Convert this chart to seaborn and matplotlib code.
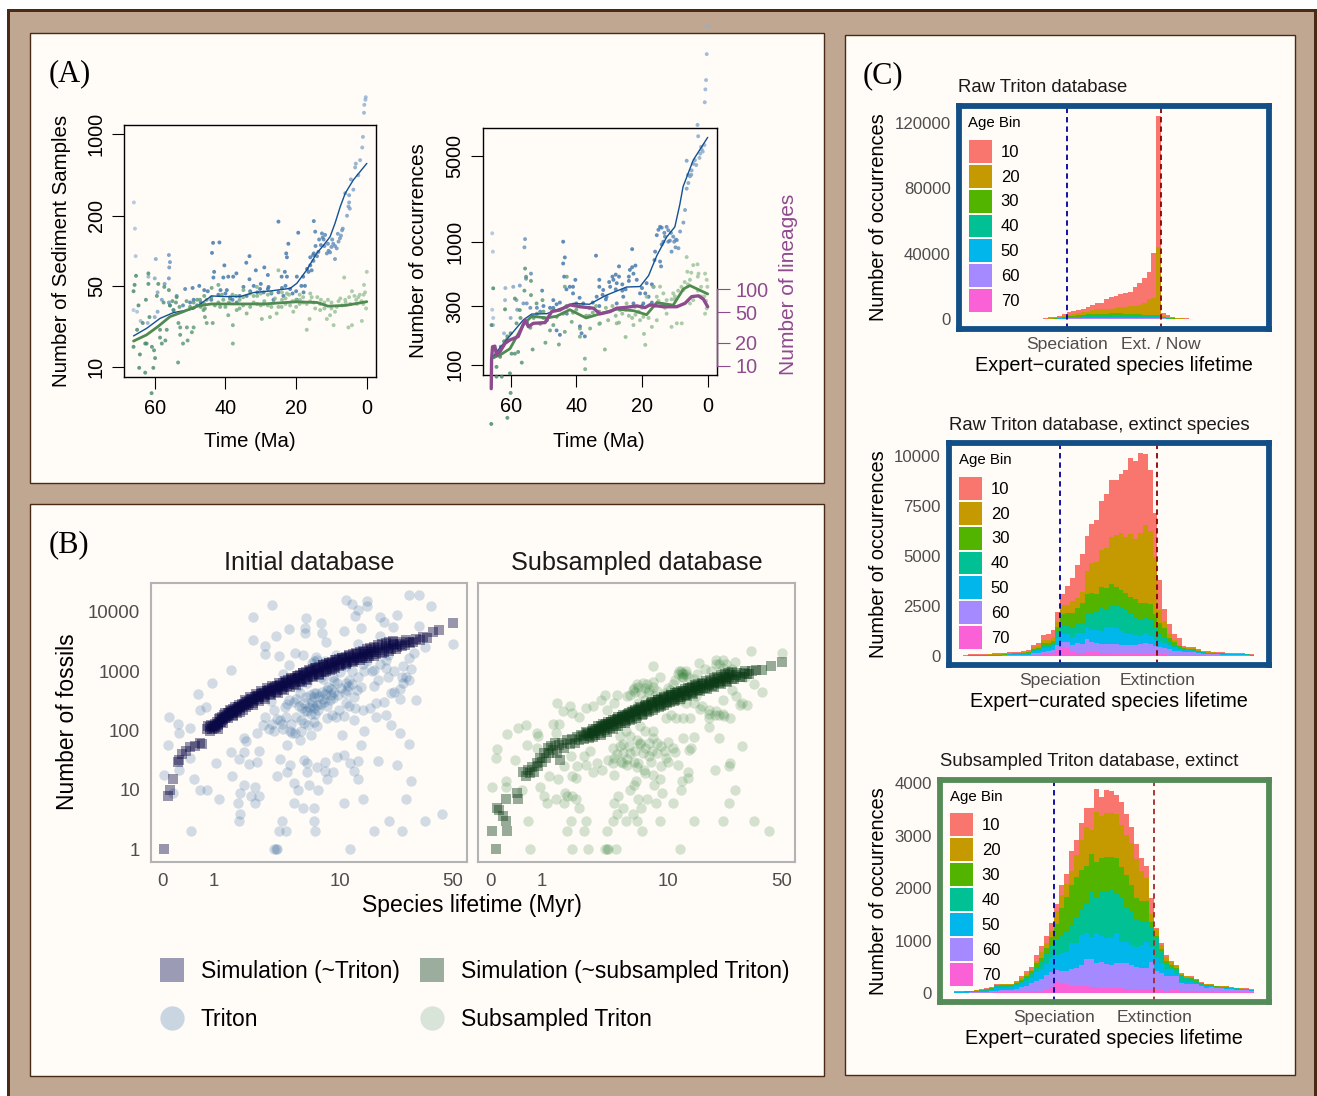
import numpy as np
import pandas as pd
import matplotlib
matplotlib.use('Agg')
import matplotlib.pyplot as plt
from matplotlib.colors import LinearSegmentedColormap
from matplotlib.lines import Line2D
from matplotlib.patches import Patch, Rectangle
import seaborn as sns

W, H = 1317, 1096

# ---- panel A: (Ma, count)
sed_blue_pts = [(0.3,2080),(0.4,1980),(0.7,1790),(0.8,1530),(1.1,950),(1.3,770),(1.9,600),(3.1,560),(3.3,520),(2.4,445),(4.5,410),(6.1,312),(3.8,335),(5,260),(5.2,240),(5.6,200),(7,150),(12.7,141),(11.8,137),(12.2,125),(14.1,90),(15.1,82),(15.6,68),(16.5,66),(19.8,60),(17.5,50),(19.4,143),(22.2,115),(25,178),(15,180),(14.6,146),(7.6,128),(8.5,105),(10.4,97),(11.3,95),(9,85),(22.8,95),(22.6,88),(23.2,66),(24.1,60),(22.6,60),(28,62),(29,72),(33.2,90),(34.1,79),(31.4,68),(33.2,57),(36.9,64),(37.8,60),(40.3,75),(39.2,60),(40.6,59),(43.4,59),(41.7,118),(43.5,117),(43.8,96),(43.2,66),(46,46),(47.4,50),(49.3,48),(51.4,47),(53.8,41),(55.7,34),(54.7,31),(56,92),(55.7,80),(55.9,72),(56,58),(57.2,52),(59.7,85),(60,58),(61.8,60),(65.4,90),(65.6,155),(65.9,260),(66,31),(65,30),(59.2,44),(59.2,30),(62,24),(41.4,46),(39.6,46),(34.9,49),(32,50),(30.2,47),(29.2,44),(27.8,49),(26.4,38),(23.6,41),(21.7,47),(19.8,38),(17.9,44),(34,41),(36.8,36),(38.7,39),(44,38),(47,36),(48,34),(13.5,125),(12,110),(16,88),(15.2,92),(13.7,98),(10,108),(9.5,115),(8,120),
 (42,42),(40,43),(38,38),(36,41),(33,45),(31,44),(30,52),(28,47),(27,43),(25,44),(24,48),(23,50),(21,43),(20,45),(18.5,50),(18,60),(16.9,70),(16,75),(15,95),(14.5,110),(13,112),(12.5,130),(11,115),(10.8,100),(9.8,125),(9,110),(8.2,140),(7.3,135),(6.8,155),(5,300),(4.8,230),(45,45),(49,38),(50,36),(52,34),(56,36),(58,38),(60,27),(64,25)]
sed_green_pts = [(64.4,9.9),(62.7,9),(60.4,9.9),(60.9,6),(64.2,12.9),(62.7,16),(62.3,16),(60.8,15),(60.2,14),(59.9,12),(58.5,18),(58,16),(57,17),(56.6,21),(58.5,21),(61.5,27),(63.4,24),(65,21),(66,15),(64.6,34),(62.5,38),(61.8,52),(61.8,64),(65.3,61),(65.7,51),(66,45),(59.4,41),(57.5,36),(56,46),(59,52),(57.3,49),(55.7,34),(54.7,31),(53.8,40),(53.3,24),(52.8,22),(50.9,22),(49.5,20),(49,22),(52.8,19),(52,16),(50.7,17),(53.4,11),(37.9,16),(37.9,23),(45.8,27),(45.3,24),(43.6,24),(45.8,32),(46.2,31),(43.9,48),(42,51),(41.5,33),(39.2,28),(36.8,31),(34,29),(31.1,49),(29.7,26),(27.4,27),(25,68),(25.5,29),(22.6,43),(20.8,30),(18.9,38),(17,21),(16.2,26),(14.6,32),(13.2,35),(11.3,26),(10.4,28),(9.4,23),(6.4,59),(6.1,38),(5.2,22),(4.2,45),(4.2,23),(2.4,40),(1.4,25),(0.8,51),(0,66),(0.2,32),(2.8,35),(0.9,42),(34.9,46),(33,43),(38.7,40),(40.6,38),(45.3,38),(47.2,38),(29.2,35),(26.4,36),(24.1,33),(21.7,34),(15.6,40),(13.2,31),(8.5,33),(7.5,39),(4.7,35),(24,38),(36,38),(32,36),(28,42),(20,38),(12,36),(18,36),(30,34),(38,42),(42,36),(35,34),(31,41),(27,33),(23,39),(19,35),(16,37),(10,36),(7,34),(3.5,41),(1.5,37),
 (44,40),(43,34),(41,42),(40,33),(39,36),(37,41),(36,32),(35,40),(33,33),(32,41),(31,35),(30,43),(29,37),(28,34),(27,44),(26,39),(25,33),(24,44),(23,35),(22,42),(21,37),(20,33),(19,42),(18,40),(17,35),(16,43),(15,36),(14,40),(13,38),(12,32),(11,38),(10,32),(9,30),(8,37),(6,36),(5,40),(3,38),(2,42),(1,35),(0.5,44),(46,35),(47,33),(48,38),(49,36),(50,33),(51,37),(53,33),(54,36),(55,37),(46,41)]
sed_blue_line = [(66,18.6),(62.3,21.6),(58.5,26.3),(54.7,29.5),(49,31.7),(46.2,36.6),(43.9,41),(40.6,40.5),(35.8,40.5),(32.1,43.8),(27.4,45.2),(21.7,47.6),(19.8,52.6),(17,68.5),(14.2,95),(12.2,112),(10.4,132),(9,172),(7.5,240),(6.1,312),(3.8,406),(0,563)]
sed_green_line = [(66,16.8),(62.3,19),(59,22.5),(55.7,27.2),(52,30),(48,33.5),(44,35),(37,35),(29,35),(20,36.5),(14,36),(11,33.5),(6,34),(0,36.6)]

occ_blue_pts = [(0,56000),(0.3,33500),(0.5,20600),(0.7,17300),(0.9,13600),(3.1,8900),(2.9,7200),(1.8,5600),(2.3,5200),(3.9,4600),(6.4,4550),(4.9,3800),(5.9,3000),(6.4,2700),(6.9,1810),(7.4,1430),(8.4,1210),(9.4,1030),(11,830),(8.9,885),(14.5,1320),(12.5,1320),(15.5,1130),(13,1100),(10.5,1100),(16,830),(16.2,710),(14.5,690),(14.2,630),(23,870),(27,630),(23.7,590),(22.6,550),(21.6,490),(18.6,460),(16.5,430),(28.7,490),(27.7,460),(29.7,430),(31.8,405),(33.8,357),(33,490),(34,770),(40.3,490),(44,1000),(43.5,745),(44,665),(43.7,520),(42,430),(41,380),(40,315),(47,335),(50.4,400),(53.8,550),(55.3,500),(55.6,1050),(55.8,900),(57.2,440),(59.2,430),(61.6,420),(61.7,335),(65.6,1170),(65.4,830),(65.6,280),(65.3,240),(65.3,210),(58.2,335),(56.1,315),(55.1,315),(37.9,315),(37.4,170),(38.4,180),(38.9,205),(42.9,260),(46,190),(45,175),(49,230),(30.8,357),(25.7,357),(20.6,380),(18,357),(19.6,315),(22.6,315),(27.7,315),(1.5,5400),(2.5,4800),(4.4,4300),(5.4,3400),(12,1240),(11.5,1020),(14,950),(13.2,1180),(9.8,900),(28,410),(26,400),(24,480),(31,340),(33,300),(36,290),(48,290),(51,270),
 (30,470),(29,520),(28,540),(27,520),(26,450),(25,410),(24,520),(23,620),(22,640),(20,420),(19,380),(17,450),(15,1250),(14,1300),(13.5,1000),(12,1000),(11.2,1180),(10.2,1000),(9.7,1040),(32,370),(33,430),(35,320),(39,350),(41,430),(43,410),(45,320),(46,310),(47,290),(50,300),(52,290),(54,290),(58,280),(60,240),(62,180),(64,130),(65,115),(2,5900),(1,6100),(3.5,4200),(5,3500),(6,3500),(20,300),(17,320)]
occ_green_pts = [(6.4,750),(4.4,645),(3.1,655),(6.2,570),(2.8,550),(0.8,550),(0.3,490),(0.1,430),(5.4,490),(7.4,405),(10.5,380),(13.5,380),(15.5,357),(16.5,430),(18.6,357),(17.6,305),(19.6,245),(22.6,210),(19,145),(19.4,178),(25,168),(31.3,133),(27.7,217),(30.3,230),(32.8,217),(35.8,197),(37.4,112),(37.3,92),(38.9,197),(38.9,169),(41.4,223),(43.5,185),(45.3,146),(49.4,151),(53.3,133),(56.6,104),(57.7,127),(58.7,123),(59.7,123),(60,59),(61,37),(65.9,33),(60.2,85),(62.7,80),(64.3,80),(64.3,96),(65.3,116),(65.8,210),(65.3,418),(61.7,282),(58.7,345),(57.2,278),(55.6,605),(55.3,519),(53.8,480),(55.8,400),(53.8,368),(50.3,335),(52.1,315),(50,270),(49,230),(47,278),(43.5,431),(42.9,519),(26.7,278),(24.7,315),(14.5,431),(12.5,335),(12.5,260),(9.4,217),(11,203),(7.9,217),(5.4,315),(4.4,335),(0.8,260),(0.3,287),(15.5,230),(17,203),(20.6,230),(22.1,295),(42.9,295),(46,245),(58.2,217),(63.2,116),(61.2,159),(36,250),(33,270),(29,300),(26,260),(21,270),(16,300),(10,340),(8,430),(3,400),(2,360),(40,280),(44,260),
 (45,280),(43,300),(41,265),(39,300),(37,250),(35,265),(34,300),(31,290),(28,250),(25,280),(24,250),(23,240),(20,290),(18,240),(15,330),(14,310),(13,290),(11,340),(10,360),(9,400),(7,470),(6,450),(5,560),(3,520),(2,430),(1,360),(0.5,330),(50,240),(51,215),(52,260),(53,240),(54,200),(55,220),(57,240),(60,180),(61,170),(62,155),(63,140),(64,120),(47,210),(48,190),(33,215),(27,220),(22,255)]
occ_blue_line = [(65.8,112),(63.2,138),(60.2,172),(56.1,232),(53.6,258),(49,260),(45,285),(41,315),(36,310),(31,366),(24.7,428),(20.6,432),(18,530),(15.5,770),(12.5,1090),(10,1320),(8.5,2000),(7.5,2800),(4.4,4610),(0,7050)]
occ_green_line = [(65.8,113),(63.2,120),(60.2,135),(56.1,212),(53.6,248),(49,240),(46,248),(42,280),(37,240),(32,263),(27.7,283),(22.6,275),(18.6,255),(15.5,320),(10.5,305),(7.4,413),(5.4,440),(0,376)]
lineage_line = [(65.9,5),(65.8,11.9),(65.5,17.7),(64.8,18),(64.3,13.8),(63.2,15.3),(61.7,19.6),(60.2,21.7),(57.7,24),(55.6,39.6),(54.6,32.4),(53.1,35.8),(49.5,36.6),(47.5,51),(45,53.6),(41.9,62.4),(38.9,59),(34.8,56.5),(32.8,47.6),(29.7,51),(27.7,56.5),(24.7,58),(21.6,60.5),(19.1,57.5),(17.6,62.4),(13.5,59),(9.4,59),(6.9,65.5),(4.9,80),(2.8,82),(1.3,74),(0,59)]

# ---- panel B: (lifetime Myr, fossils)
triton_pts = [(0.02,18),(0.08,170),(0.07,57),(0.22,127),(0.24,92),(0.44,110),(0.44,34),(0.25,22),(0.15,9),(0.53,15),(0.65,10),(0.82,10),(1.13,7),(0.47,2),(0.6,410),(0.65,220),(0.8,250),(0.95,630),(1.5,1050),(1.05,28),(1.5,44),(1.55,17),(1.75,6),(1.85,4),(1.8,3),(1.85,9),(2,12),(2.5,11),(2.3,8),(2.7,8),(2.5,6),(1.8,33),(2,43),(2,75),(2.2,27),(2.6,30),(2.7,45),(2.6,92),(2.1,66),(2.4,8300),(2.4,3400),(3,2600),(3,1950),(3.4,13000),(3.6,3900),(3.8,1800),(4.5,5200),(4.5,1250),(4.1,900),(6,7800),(5.9,5300),(5.9,4300),(7.5,6500),(7.6,4300),(8.1,3100),(10.7,4700),(13.6,5400),(13,2900),(18,8300),(19,6800),(21.5,5600),(23,8900),(11,15500),(12,13700),(13,10500),(12.5,8500),(15,15000),(15,12500),(27,19000),(31,19000),(37,12500),(50,2900),(34,2500),(31,5800),(18,3900),(5,2000),(5.7,1900),(6.7,1500),(8,1500),(9.5,1900),
 (6.05,640),(6.7,430),(7.8,730),(5.45,430),(7.1,270),(6.05,215),(6.4,190),(5.1,340),(5.75,290),(7.8,340),(8.2,480),(9.1,690),(9.6,620),(11.2,480),(11.4,260),(12.3,370),(13.6,540),(14.3,1000),(16,1000),(16.5,560),(4.37,280),(4.2,250),(3.5,220),(3,170),(3.9,150),(3.2,105),(3.5,100),(4.6,97),(4.75,92),(5.45,70),(6.4,85),(7.1,120),(8.2,165),(10.3,85),(10.6,175),(12.3,150),(14.3,100),(13.6,57),(9.6,36),(10.6,38),(8,29),(5.75,32),(6.05,28),(3.9,33),(4.37,58),(4.6,26),(4.37,20),(3.7,17),(6.05,20),(7.1,24),(8,21),(9,20),(8.2,15),(11.7,28),(13,31),(12.3,21),(13,15),(4.9,13),(5.2,10),(6.2,12),(7.2,10),(4.9,6),(5.7,5),(6.7,5),(4,3),(6.7,3),(3.8,2),(4.3,2),(6.9,2),(3.5,1),(3.6,1),(3.7,1),(11.7,1),(10.7,6),(14.1,7),(16.6,2),(20.5,3),(24.5,2),(34,3),(43,4),(26,7),(28,14),(17.5,31),(23,26),(27,59),(24,92),(21,125),(17,170),(19.5,185),(24,340),(30,330),(22,440),(27,700),(25,630),(24.5,800),(19.5,1120),(16.5,1060),(19.5,1550),(25,1210),(27,1640),(29,2000),(9,800),(10,950),(11.5,700),(7.5,800),(8.8,400),(6.5,300),(5.2,560),(4.7,130),(3.3,310),(13,800),(15,1500),(20,1900),(5,90),(6.8,140),(9.9,220),(11,640),
 (4.5,330),(4.9,300),(5.3,260),(5.6,240),(5.9,210),(6.2,250),(6.5,270),(6.8,240),(7.2,220),(7.5,280),(7.9,300),(8.3,260),(8.6,320),(9,350),(6,360),(6.3,400),(6.7,360),(7,420),(7.3,380),(7.6,450),(8,410),(8.4,550),(8.8,500),(9.2,440),(9.8,400),(10.2,520),(10.8,430),(11.3,560),(12,600),(12.8,480),(5.1,170),(5.5,150),(5.8,135),(6.1,125),(3.7,155),(4,130),(4.3,170),(4.1,105),(3.4,130),(2.9,125),(5.5,100),(6.9,190),(8.9,180),(9.5,170),(11,290),(12.5,240),(14,220),(15.5,240),(17,290),(19,300),(21,420),(24,500),(26,800),(28,1100),(17.5,700),(20,800),(22,1000),(18,1300),(12,1000),(14,1300),(11,1200),(6.5,1350),(7,1700),(7.1,1550)]
sim_pts = [(0.02,1),(0.07,8),(0.1,10),(0.15,15),(0.22,30),(0.24,32),(0.3,40),(0.37,46),(0.45,52),(0.55,55),(0.65,62),(0.7,60),(0.82,105),(0.85,120),(0.88,100),(0.9,115),(0.92,125),(0.95,105),(0.98,120),(1,110),(1.02,130),(1.05,115),(1.08,140),(1.12,125),(1.15,155),(1.2,140),(1.22,170),(1.27,155),(1.3,185),(1.35,170),(1.4,200),(1.45,185),(1.5,215),(1.55,195),(1.6,230),(1.7,215),(1.75,250),(1.85,240),(1.9,275),(2,265),(2.1,300),(2.2,290),(2.3,335),(2.45,320),(2.6,380),(2.7,365),(2.85,420),(3,400),(3.15,465),(3.3,440),(3.5,510),(3.7,490),(3.9,570),(4.1,540),(4.3,630),(4.5,600),(4.75,700),(5,660),(5.25,770),(5.5,730),(5.8,860),(6.1,810),(6.4,950),(6.7,900),(7.1,1050),(7.5,980),(7.9,1160),(8.3,1090),(8.7,1270),(9.1,1190),(9.6,1400),(10.1,1300),(10.6,1520),(11.2,1420),(11.8,1640),(12.4,1530),(13.1,1760),(13.8,1650),(14.5,1920),(15.3,1800),(16,2080),(17,1950),(18,2260),(19,2120),(20,2480),(21,2350),(22,2700),(23,2550),(24,2900),(25.5,2800),(27,3150),(28.5,3050),(30,3500),(31.5,3300),(33,3700),(35,3600),(38,4500),(41,5000),(50,6450),
 (1.1,105),(1.18,165),(1.25,135),(1.33,200),(1.42,160),(1.48,225),(1.58,180),(1.65,250),(1.72,200),(1.8,270),(1.95,225),(2.05,320),(2.15,265),(2.25,360),(2.4,295),(2.55,410),(2.65,335),(2.8,455),(2.95,370),(3.1,510),(3.25,405),(3.4,560),(3.6,450),(3.8,625),(4,500),(4.2,690),(4.4,555),(4.65,760),(4.9,610),(5.15,840),(5.4,680),(5.65,940),(5.95,750),(6.25,1040),(6.55,830),(6.9,1150),(7.3,910),(7.7,1270),(8.1,1000),(8.5,1390),(8.9,1100),(9.35,1530),(9.85,1210),(10.4,1660),(10.9,1320),(11.5,1790),(12.1,1430),(12.8,1930),(13.5,1540),(14.2,2090),(14.9,1680),(15.7,2260),(16.5,1830),(17.5,2450),(18.5,1990),(19.5,2690),(20.5,2200),(21.5,2900),(22.5,2400),(23.5,3100),(24.5,2650),(26,3300),(27.5,2950),
 (1.03,120),(1.1,130),(1.17,140),(1.24,150),(1.31,165),(1.38,178),(1.46,195),(1.53,205),(1.62,215),(1.72,232),(1.82,250),(1.92,262),(2.02,280),(2.12,298),(2.22,315),(2.35,335),(2.5,360),(2.62,385),(2.78,405),(2.92,430),(3.08,455),(3.22,480),(3.38,505),(3.55,535),(3.72,560),(3.9,595),(4.08,625),(4.28,660),(4.48,700),(4.7,740),(4.95,780),(5.2,825),(5.45,870),(5.72,915),(6,965),(6.3,1020),(6.6,1070),(6.95,1130),(7.3,1190),(7.7,1250),(8.1,1310),(8.5,1380),(8.95,1450),(9.4,1520),(9.9,1590),(10.4,1670),(10.95,1750),(11.5,1840),(12.1,1930),(12.75,2020),(13.4,2120),(14.1,2220),(14.85,2330),(15.6,2440),(16.5,2560),(17.5,2700),(18.5,2830),(19.5,2970),(20.5,3100),(21.5,3220),
 (1.6,175),(1.85,205),(2.1,245),(2.4,270),(2.7,310),(3,345),(3.35,390),(3.75,430),(4.15,480),(4.6,530),(5.05,590),(5.55,650),(6.05,715),(6.65,790),(7.25,870),(7.9,955),(8.6,1050),(9.35,1150),(10.15,1260),(11,1380),(11.9,1500),(12.9,1640),(14,1790),(15.1,1950),(16.4,2130)]
sub_pts = [(0.02,11),(0.09,48),(0.07,34),(0.23,14),(0.23,11),(0.25,87),(0.44,110),(0.61,125),(0.38,32),(0.52,10),(0.64,3),(0.7,1),(0.86,90),(0.9,80),(0.62,57),(0.86,50),(0.95,11),(1.06,8),(1.14,6),(1.2,17),(1.48,15),(1.42,7),(1.74,9),(1.7,6),(1.8,8),(2,8),(2.14,7),(2.3,5),(1.97,3),(1.78,2),(2.5,2),(2.64,3),(2,1),(2.7,1),(3.7,1),(3.8,1),(3.85,1),(4.4,1),(11.9,1),(3.8,2),(6.7,2),(5.2,3),(4.2,3),(8.8,3),(14.5,3),(22,3),(34,3),(42,2),(6.2,3),(5.8,4),(4.5,4),(4.3,6),(4.6,8),(5,5),(6.6,5),(6.3,7),(7.3,7),(8.3,6),(9.1,9),(10.7,6),(8.1,12),(5.9,12),(5.6,10),(6.1,14),(24,6),(26,10),(12,10),(12.3,14),(13.3,20),(13.4,16),(19.7,22),(24,25),(24.5,28),(29,54),
 (2.6,26),(3,20),(2.14,16),(2,17),(2.2,25),(2.5,37),(1.95,37),(1.7,25),(3.9,32),(4.2,28),(4.3,18),(5,28),(5.3,26),(5.9,30),(6.9,22),(6.3,28),(7.7,30),(6.8,41),(7.5,37),(5.6,41),(5,41),(4.2,50),(4.7,54),(5.6,80),(4.7,80),(6.5,61),(8.4,62),(10,65),(10.7,50),(9.7,34),(11.6,26),(13.6,47),(12.4,75),(14.6,78),(14,50),(21,75),(18,116),(21,180),(22.5,175),(24.5,160),(18,160),(13.8,160),(12.4,160),(11.2,160),(10.4,180),(9.7,160),(8,100),(7,100),(6.2,70),
 (1.45,290),(1.9,255),(1.65,210),(2,195),(1.3,130),(1.5,130),(1.42,90),(2.6,240),(2.3,170),(3,255),(3.4,330),(3.7,400),(4.5,400),(3.8,220),(4.3,290),(5.3,375),(5.6,400),(6.3,550),(7,510),(7.9,550),(7.9,1220),(8.8,800),(6.3,290),(5.6,220),(11,715),(12.2,920),(13,1000),(11.8,1000),(12.5,900),(13.4,800),(15.7,1370),(20,1540),(22,1540),(22,1120),(26,1450),(32.7,2170),(50,2000),(34,600),(38,440),(29,290),(31,270),(28,270),(16.3,630),(10.3,480),(13.4,550),(15,375),(16.3,260),(18,220),(19.7,180),(22,330),(26.6,375),(25,480),(6,450),(6.6,430),(5.9,520),(7.4,450),(8.2,380),(9,320),(7,330),(11.5,420),(12.4,790),(21,1300),(24,1000),(27,850),(30,800),(5.2,100),(6.5,120),(8,75),(9,55),(7,50),
 (5.8,480),(6.2,600),(6.8,640),(7.2,600),(7.5,480),(8,650),(8.5,470),(9.5,420),(10,520),(10.8,600),(11.5,900),(12,1000),(12.2,800),(13,900),(14.5,750),(15.2,900),(17,1100),(18.5,1000),(20,1300),(23,1300),(25,1100),(12,320),(13,290),(14.5,290),(16,230),(18,190),(20,210),(22,190),(5,60),(5.5,55),(6,45),(6.5,60),(7.5,62),(7.8,45),(8.5,42),(9.5,45),(4.5,40),(4.3,35),(4.8,30),(5.3,33),(6.2,24),(7,19),(8,18),(9,25),(8.8,15),(10,30),(11,44),(3.5,22),(3.2,28),(2.8,45)]
sub_sim_pts = [(0.07,1),(0.02,2),(0.25,2),(0.23,3),(0.18,3.6),(0.12,4.5),(0.09,5),(0.23,7),(0.44,7),(0.42,9),(0.55,20),(0.6,17),(0.65,22),(0.7,19),(0.75,24),(0.8,20),(0.86,28),(0.9,25),(0.95,35),(1,30),(1.05,42),(1.1,34),(1.15,50),(1.2,42),(1.25,55),(1.3,47),(1.38,62),(1.45,42),(1.5,58),(1.55,32),(1.6,62),(1.7,50),(1.8,70),(1.9,60),(2,72),(2.1,62),(2.2,78),(2.3,68),(2.4,85),(2.5,72),(2.65,90),(2.8,82),(2.9,98),(3,92),(3.15,108),(3.3,100),(3.45,118),(3.6,110),(3.75,128),(3.9,120),(4.1,140),(4.3,130),(4.5,155),(4.7,145),(4.9,170),(5.1,158),(5.3,185),(5.6,170),(5.85,205),(6.1,190),(6.4,225),(6.7,210),(7,250),(7.3,232),(7.7,275),(8,255),(8.4,300),(8.8,280),(9.2,330),(9.6,305),(10.1,360),(10.6,335),(11.1,395),(11.6,365),(12.2,430),(12.8,400),(13.4,470),(14,440),(14.7,510),(15.4,480),(16.2,560),(17,525),(18,610),(19,570),(20,665),(21,625),(22,730),(23,685),(24,790),(25,750),(26.5,860),(28,810),(29.5,930),(31,890),(33,1000),(35,1030),(38,1060),(43,1200),(50,1410),
 (2.6,95),(2.75,75),(2.95,105),(3.1,85),(3.25,118),(3.4,92),(3.55,128),(3.7,102),(3.85,140),(4,110),(4.2,152),(4.4,120),(4.6,168),(4.8,132),(5,182),(5.2,145),(5.45,200),(5.7,158),(6,222),(6.25,175),(6.55,245),(6.85,192),(7.15,270),(7.5,212),(7.85,298),(8.2,235),(8.6,328),(9,258),(9.4,360),(9.85,285),(10.35,395),(10.85,312),(11.35,430),(11.9,345),(12.5,470),(13.1,378),(13.7,515),(14.35,415),(15,555),(15.8,455),(16.6,605),(17.5,500),(18.5,665),(19.5,550),(20.5,725),(21.5,605),(22.5,790),(23.5,660),(24.5,860),(25.8,725),(27,930),(29,800),(30,1000),(32,900),
 (2.45,80),(2.7,88),(2.9,92),(3.1,98),(3.3,108),(3.5,115),(3.7,122),(3.9,130),(4.1,138),(4.35,148),(4.6,158),(4.85,168),(5.1,178),(5.4,190),(5.7,202),(6,215),(6.3,228),(6.65,242),(7,258),(7.35,272),(7.75,288),(8.15,305),(8.55,322),(9,340),(9.45,358),(9.95,378),(10.45,398),(11,420),(11.55,445),(12.15,468),(12.75,492),(13.4,520),(14.1,548),(14.8,578),(15.55,610),(16.4,642),(17.3,680),(18.3,720),(19.3,760),(20.3,800),(21.4,845),(22.6,890),(23.8,935),(25.2,980),
 (3,78),(3.4,85),(3.8,96),(4.2,108),(4.6,120),(5.1,135),(5.6,148),(6.1,165),(6.7,182),(7.3,202),(7.95,222),(8.65,245),(9.4,270),(10.2,298),(11.1,328),(12,360),(13,395),(14.1,435),(15.3,478),(16.6,525),(18,575),(19.5,630),(21.1,690),(23,755)]

# ---- panel C: cumulative height of each age bin, 60 bins from -1 to 2
age_bins = ['10', '20', '30', '40', '50', '60', '70']
age_colors = ['#F8766D', '#C49A00', '#53B400', '#00C094', '#00B6EB', '#A58AFF', '#FB61D7']

raw_tops = [
 [100,100,300,100,100,200,200,200,200,200,200,200,250,300,400,600,1200,1600,2200,3200,4500,4900,5700,6500,7500,8700,9800,10200,12200,13400,14400,15400,15800,16800,19500,21900,25500,29000,40600,123800,4000,2600,1600,1000,800,600,400,300,300,200,200,200,200,200,200,200,200,200,200,200],
 [80,80,250,80,80,150,150,150,150,150,150,150,200,250,300,400,600,800,1200,2000,2600,3000,3900,4300,4700,5500,6100,6300,6500,6500,6900,7300,7300,8100,8300,8700,9700,12200,13200,44250,2000,1400,1000,700,500,400,300,250,200,150,150,150,150,150,150,150,150,150,150,150],
 [60,60,200,60,60,120,120,120,120,120,120,120,150,180,220,300,450,600,900,1300,2000,2200,2500,2800,3000,3000,3100,3400,3500,3600,3600,3600,3400,3200,3100,3000,2800,2600,2400,2400,1200,800,600,400,300,250,200,180,150,120,120,120,150,120,120,120,150,120,120,120],
 [50,50,100,150,50,100,100,100,100,100,100,100,120,150,180,240,350,450,650,900,1400,1500,1700,1900,2100,2200,2300,2400,2500,2500,2500,2400,2300,2200,2100,2000,1900,1800,1800,1800,900,600,450,300,220,180,150,130,110,100,100,100,100,100,100,100,100,150,100,100],
 [40,40,80,120,40,80,80,80,80,80,80,80,100,120,150,200,280,350,500,700,1000,1100,1200,1300,1400,1500,1500,1500,1500,1500,1500,1500,1500,1400,1400,1300,1300,1200,1200,1200,700,450,350,250,180,150,120,100,90,80,80,80,80,80,80,80,80,120,80,80],
 [30,30,50,80,30,60,60,60,60,60,60,60,70,80,100,130,180,230,300,400,800,850,900,950,1000,1000,1050,1050,1050,1050,1050,1050,1000,1000,1000,950,950,900,900,900,500,300,250,180,130,100,90,80,70,60,60,60,60,60,60,60,60,60,60,60],
 [10,10,20,30,10,20,20,20,20,20,20,20,30,30,40,50,80,100,150,200,300,350,350,350,350,350,350,350,350,350,350,350,350,350,300,300,300,300,300,300,200,150,100,80,60,50,40,30,30,20,20,20,20,20,20,20,20,20,20,20]]

ext_tops = [
 [30,80,80,80,80,100,130,130,130,180,220,220,270,300,550,630,1050,1080,1300,2200,3100,3500,3920,4550,5100,6000,6600,6800,7770,8100,8800,8800,9100,9300,9920,9770,10170,10080,9300,7170,3800,2350,1600,1100,880,500,470,430,370,270,230,220,200,180,170,130,130,130,120,80],
 [20,60,60,60,60,80,100,100,110,150,170,170,200,220,430,480,780,800,950,1700,2550,2550,2770,2880,3200,4250,4670,4720,5300,5380,5970,6050,6130,5970,6100,5830,6130,6550,6270,4970,2300,1770,1100,800,550,430,420,380,300,220,190,180,170,150,140,110,110,110,100,70],
 [15,40,40,40,40,60,70,70,80,120,140,140,170,190,370,400,630,650,750,1470,2100,2130,2130,2380,2630,3080,3170,3080,3470,3380,3600,3470,3300,3170,2970,2830,2670,2630,2580,2100,1630,1380,880,680,500,380,370,340,270,200,170,160,150,130,120,100,100,100,90,60],
 [10,30,30,30,30,40,50,50,60,100,120,120,140,160,330,340,520,540,620,1250,1500,1550,1470,1630,1630,2100,2130,2220,2470,2330,2500,2520,2430,2300,2100,1880,1800,1930,1830,1470,1130,970,720,550,420,350,340,310,250,180,150,140,130,110,100,90,90,90,80,50],
 [8,20,20,20,20,30,40,40,50,80,100,100,120,130,270,280,400,420,480,900,1100,1100,970,1170,1130,1380,1300,1300,1270,1430,1470,1380,1270,1130,1100,1050,1000,1170,1000,800,720,670,550,430,350,300,300,270,220,160,130,120,110,100,90,80,80,80,70,40],
 [5,12,12,12,12,15,20,20,25,40,50,50,60,70,130,150,220,230,300,550,720,680,550,630,600,830,720,630,600,600,580,580,550,530,530,530,580,670,580,500,470,380,330,270,230,200,200,190,150,120,100,90,80,70,60,50,50,50,40,20],
 [2,5,5,5,5,5,8,8,10,15,20,20,25,30,50,60,90,100,130,300,430,420,220,130,130,180,200,220,170,130,100,100,80,80,80,80,80,100,80,80,80,80,70,60,50,40,40,40,30,25,20,20,15,15,10,10,10,10,10,5]]

sub_tops = [
 [40,40,45,50,65,75,95,115,175,180,180,185,235,320,415,510,720,900,1090,1335,1700,2060,2280,2710,2920,3250,3520,3520,3890,3730,3870,3860,3780,3650,3410,3170,2840,2570,2430,1810,1250,950,730,615,540,380,330,325,270,210,180,180,145,140,135,120,110,100,95,75],
 [35,35,40,45,60,70,90,105,165,170,170,175,215,290,375,450,620,780,950,1190,1570,1870,2075,2320,2630,2920,3170,3110,3460,3370,3440,3440,3410,3210,3020,2860,2550,2320,2190,1510,1220,920,700,600,525,370,320,315,265,205,175,175,140,135,130,115,105,95,90,70],
 [30,30,35,40,50,60,80,95,150,155,155,160,200,255,320,415,570,665,860,1080,1320,1620,1840,2060,2220,2350,2430,2650,2510,2570,2600,2600,2570,2410,2250,2060,1810,1750,1760,1365,1100,850,620,540,480,350,300,290,250,190,165,160,130,125,120,110,100,90,85,65],
 [25,25,30,35,45,55,70,85,130,135,135,140,175,230,285,370,500,600,740,900,1015,1110,1190,1300,1430,1590,1715,1955,1840,1920,1940,1970,1905,1810,1620,1555,1400,1365,1365,1270,1080,800,560,500,450,330,290,280,240,180,155,150,125,120,115,105,95,85,80,60],
 [20,20,25,30,35,40,50,60,100,105,105,115,150,190,235,300,400,460,550,680,730,760,795,950,950,1110,1140,1080,1140,1100,1050,1080,1140,985,985,920,890,920,985,890,665,570,465,465,360,220,210,210,195,160,140,135,115,110,105,95,85,75,70,55],
 [10,10,12,15,18,22,30,40,50,55,60,65,90,120,140,190,240,280,340,400,445,425,415,465,475,540,655,655,570,600,550,540,585,580,580,540,510,490,490,590,415,385,320,320,320,190,185,180,170,130,110,115,100,95,90,80,70,65,60,45],
 [3,3,5,5,5,8,10,12,15,15,15,18,22,30,30,35,40,45,60,125,210,190,170,145,145,145,145,125,115,100,95,100,110,95,80,70,75,90,75,75,80,65,50,55,55,50,45,45,45,40,35,35,30,30,30,30,25,25,25,20]]

PANEL_BG = '#FFFBF7'
TAN = '#C0A792'
DARK = '#4A2A14'
PURPLE = '#8E4A8E'
GREY = '#4D4D4D'

sns.set_theme(style='white')
plt.rcParams['font.family'] = ['Liberation Sans', 'DejaVu Sans']

fig = plt.figure(figsize=(W / 100, H / 100), dpi=100, facecolor='white')


def add_box(x0, y0, x1, y1, **kw):
    # zorder below the axes, which are drawn at 0
    fig.add_artist(Rectangle((x0 / W, 1 - y1 / H), (x1 - x0) / W, (y1 - y0) / H,
                             transform=fig.transFigure, zorder=-1, **kw))


def add_ax(x0, y0, x1, y1):
    return fig.add_axes([x0 / W, 1 - y1 / H, (x1 - x0) / W, (y1 - y0) / H], facecolor=PANEL_BG)


def add_text(x, y, s, **kw):
    kw.setdefault('ha', 'center')
    kw.setdefault('va', 'center')
    fig.text(x / W, 1 - y / H, s, **kw)


def frame(pairs, xname, yname):
    return pd.DataFrame(pairs, columns=[xname, yname])


# backdrop
add_box(7, 9, 1317, 1100, facecolor=DARK, edgecolor='none')
add_box(10, 12, 1314, 1100, facecolor=TAN, edgecolor='none')
add_box(30, 33, 824, 483, facecolor=PANEL_BG, edgecolor=DARK, linewidth=1)
add_box(30, 504, 824, 1076, facecolor=PANEL_BG, edgecolor=DARK, linewidth=1)
add_box(845, 35, 1295, 1075, facecolor=PANEL_BG, edgecolor=DARK, linewidth=1)

add_text(49, 74, '(A)', family='Liberation Serif', fontsize=22, color='black', ha='left')
add_text(49, 545, '(B)', family='Liberation Serif', fontsize=22, color='black', ha='left')
add_text(863, 76, '(C)', family='Liberation Serif', fontsize=22, color='black', ha='left')

blue_map = LinearSegmentedColormap.from_list('bl', ['#A5BFDA', '#3A72AA', '#3A72AA', '#3A72AA', '#8FB0D0'])
green_map = LinearSegmentedColormap.from_list('gr', ['#9CC49A', '#8DBB8D', '#5E9E74', '#3E8468'])


def panel_a(box, xlim, ylim, yticks, blue_pts, green_pts, blue_line, green_line):
    ax = add_ax(*box)
    d = frame(blue_pts, 'Ma', 'n')
    # blue map runs young -> old reversed, so flip the hue
    d['h'] = 66 - d['Ma']
    sns.scatterplot(data=d, x='Ma', y='n', hue='h', palette=blue_map, hue_norm=(0, 66), s=8, linewidth=0,
                    alpha=0.8, legend=False, clip_on=False, ax=ax, zorder=3)
    d = frame(green_pts, 'Ma', 'n')
    sns.scatterplot(data=d, x='Ma', y='n', hue='Ma', palette=green_map, hue_norm=(0, 66), s=8, linewidth=0,
                    alpha=0.8, legend=False, clip_on=False, ax=ax, zorder=3)
    d = frame(blue_line, 'Ma', 'n')
    sns.lineplot(data=d, x='Ma', y='n', sort=False, estimator=None, color='#135193', linewidth=1.0, ax=ax, zorder=4)
    d = frame(green_line, 'Ma', 'n')
    sns.lineplot(data=d, x='Ma', y='n', sort=False, estimator=None, color='#4F8A50', linewidth=2.0, ax=ax, zorder=4)
    ax.set_yscale('log')
    ax.set_xlim(*xlim)
    ax.set_ylim(*ylim)
    ax.set_xticks([60, 40, 20, 0])
    ax.set_yticks(yticks)
    ax.set_yticklabels([str(t) for t in yticks], rotation=90, va='center', fontsize=14.3, color='black')
    ax.minorticks_off()
    ax.tick_params(axis='x', labelsize=14.3, length=8.5, width=0.8, pad=7.5, colors='black', bottom=True)
    ax.tick_params(axis='y', length=8.5, width=0.8, pad=4.5, colors='black', left=True)
    ax.set_xlabel('')
    ax.set_ylabel('')
    for s in ax.spines.values():
        s.set_color('black')
        s.set_linewidth(1.0)
    return ax


panel_a((124, 125, 376, 377), (68.7, -2.6), (8.26, 1202), [10, 50, 200, 1000],
        sed_blue_pts, sed_green_pts, sed_blue_line, sed_green_line)
ax2 = panel_a((482.7, 128, 716.7, 375), (68.5, -2.74), (82.5, 8400), [100, 300, 1000, 5000],
              occ_blue_pts, occ_green_pts, occ_blue_line, occ_green_line)

tw = ax2.twinx()
tw.set_facecolor('none')
d = frame(lineage_line, 'Ma', 'n')
sns.lineplot(data=d, x='Ma', y='n', sort=False, estimator=None, color=PURPLE, linewidth=2.4, clip_on=False, ax=tw, zorder=5)
tw.set_yscale('log')
tw.set_ylim(7.55, 12850)
tw.set_xlim(68.5, -2.74)
tw.set_yticks([10, 20, 50, 100])
tw.set_yticklabels(['10', '20', '50', '100'], fontsize=14.3, color=PURPLE)
tw.minorticks_off()
tw.tick_params(axis='y', right=True, length=9.5, width=0.8, pad=4, color=PURPLE)
tw.set_xlabel('')
tw.set_ylabel('')
for name, s in tw.spines.items():
    s.set_visible(False)
tw.spines['right'].set_visible(True)
tw.spines['right'].set_color(PURPLE)
tw.spines['right'].set_bounds(10, 100)
tw.spines['right'].set_linewidth(1.0)

add_text(62, 251, 'Number of Sediment Samples', rotation=90, fontsize=14.7, color='black')
add_text(250, 441.5, 'Time (Ma)', fontsize=14.6, color='black')
add_text(418, 251, 'Number of occurrences', rotation=90, fontsize=14.9, color='black')
add_text(599, 441.5, 'Time (Ma)', fontsize=14.6, color='black')
add_text(788, 284, 'Number of lineages', rotation=90, fontsize=15, color=PURPLE)


# ---- panel B
def log1p_fwd(x):
    return np.log10(np.asarray(x) + 1)


def log1p_inv(y):
    return 10 ** np.asarray(y) - 1


def panel_b(box, xlim, pts, sim, dot_color, sim_color, title, show_y):
    ax = add_ax(*box)
    sns.scatterplot(data=frame(pts, 'life', 'n'), x='life', y='n', color=dot_color, s=56, alpha=0.2, linewidth=0, ax=ax)
    sns.scatterplot(data=frame(sim, 'life', 'n'), x='life', y='n', color=sim_color, marker='s', s=62, alpha=0.42, linewidth=0, ax=ax)
    ax.set_xscale('function', functions=(log1p_fwd, log1p_inv))
    ax.set_yscale('log')
    ax.set_xlim(*xlim)
    ax.set_ylim(0.618, 30800)
    ax.set_xticks([0, 1, 10, 50])
    ax.set_xticklabels(['0', '1', '10', '50'])
    ax.minorticks_off()
    ax.set_yticks([1, 10, 100, 1000, 10000])
    if show_y:
        ax.set_yticklabels(['1', '10', '100', '1000', '10000'])
    else:
        ax.set_yticklabels([])
    ax.tick_params(labelsize=13.4, labelcolor=GREY, length=0, pad=8)
    ax.set_xlabel('')
    ax.set_ylabel('')
    for s in ax.spines.values():
        s.set_color('#B3B3B3')
        s.set_linewidth(1.5)
    add_text((box[0] + box[2]) / 2, 563, title, fontsize=18.2, color='#1A1A1A')


panel_b((151, 582.7, 467, 861.7), (-0.15, 60.7), triton_pts, sim_pts, '#1F5A94', '#0A0845', 'Initial database', True)
panel_b((478, 582.7, 795, 861.7), (-0.161, 60.1), sub_pts, sub_sim_pts, '#2E7D32', '#0B3A16', 'Subsampled database', False)
add_text(68, 722, 'Number of fossils', rotation=90, fontsize=16.4, color='black')
add_text(472, 905.5, 'Species lifetime (Myr)', fontsize=16.5, color='black')

b_handles = [
    Line2D([], [], marker='s', linestyle='none', markersize=17, markeredgewidth=0, color='#9C9BB6', label='Simulation (~Triton)'),
    Line2D([], [], marker='o', linestyle='none', markersize=17.5, markeredgewidth=0, color='#C9D6E2', label='Triton'),
    Line2D([], [], marker='s', linestyle='none', markersize=17, markeredgewidth=0, color='#9CAC9D', label='Simulation (~subsampled Triton)'),
    Line2D([], [], marker='o', linestyle='none', markersize=17.5, markeredgewidth=0, color='#D9E4D8', label='Subsampled Triton'),
]
fig.legend(handles=b_handles, ncols=2, frameon=False, fontsize=16.5, labelcolor='black',
           loc='upper left', bbox_to_anchor=(155 / W, 1 - 960 / H), borderpad=0, borderaxespad=0,
           handlelength=1.5, handletextpad=0.5, columnspacing=0.67, labelspacing=1.08)


# ---- panel C
def panel_c(box, ylim, yticks, tops, title, end_label, border, red):
    ax = add_ax(*box)
    centres = [-1 + 0.05 * (i + 0.5) for i in range(60)]
    rows = []
    for k, age in enumerate(age_bins):
        below = tops[k + 1] if k < 6 else [0] * 60
        for c, t, b in zip(centres, tops[k], below):
            rows.append((c, age, max(t - b, 0)))
    d = pd.DataFrame(rows, columns=['pos', 'age', 'n'])
    sns.histplot(data=d, x='pos', weights='n', hue='age', hue_order=age_bins, multiple='stack', bins=60,
                 binrange=(-1, 2), element='step', palette=dict(zip(age_bins, age_colors)), alpha=1,
                 linewidth=0, legend=False, ax=ax)
    ax.axvline(0, color='#0000A0', linestyle=(0, (3, 2.2)), linewidth=1.3)
    ax.axvline(1, color=red, linestyle=(0, (3, 2.2)), linewidth=1.3)
    ax.set_xlim(-1.15, 2.15)
    ax.set_ylim(*ylim)
    ax.set_xticks([0, 1])
    ax.set_xticklabels(['Speciation', end_label])
    ax.set_yticks(yticks)
    ax.set_yticklabels([str(t) for t in yticks])
    ax.tick_params(axis='x', labelsize=12.6, labelcolor=GREY, length=0, pad=5.6)
    ax.tick_params(axis='y', labelsize=12.1, labelcolor=GREY, length=0, pad=5.5)
    ax.set_xlabel('')
    ax.set_ylabel('')
    for s in ax.spines.values():
        s.set_color(border)
        s.set_linewidth(4.2)
    w_px, h_px = box[2] - box[0], box[3] - box[1]
    handles = [Patch(facecolor=c, edgecolor='none', label=a) for a, c in zip(age_bins, age_colors)]
    leg = ax.legend(handles=handles, title='Age Bin', frameon=False, loc='upper left', alignment='left',
                    bbox_to_anchor=(10 / w_px, 1 - 10 / h_px), borderpad=0, borderaxespad=0, fontsize=12,
                    title_fontsize=10.8, handlelength=1.38, handleheight=1.74, handletextpad=0.55,
                    labelspacing=0.12, labelcolor='black')
    leg.get_title().set_color('black')
    leg._legend_box.sep = 7
    add_text((box[0] + box[2]) / 2, box[3] + 36.5, 'Expert\u2212curated species lifetime', fontsize=14.3, color='black')
    add_text(box[0], box[1] - 18, title, fontsize=13.3, color='#1A1A1A', ha='left')
    add_text(878, (box[1] + box[3]) / 2, 'Number of occurrences', rotation=90, fontsize=14.4, color='black')


panel_c((958.5, 106, 1269, 329), (-5920, 130190), [0, 40000, 80000, 120000], raw_tops,
        'Raw Triton database', 'Ext. / Now', '#134F87', '#8B0000')
panel_c((948.7, 443, 1269, 665), (-450, 10650), [0, 2500, 5000, 7500, 10000], ext_tops,
        'Raw Triton database, extinct species', 'Extinction', '#134F87', '#8B0000')
panel_c((939.5, 779.5, 1269, 1002), (-166, 4072), [0, 1000, 2000, 3000, 4000], sub_tops,
        'Subsampled Triton database, extinct', 'Extinction', '#558B58', '#A52A2A')

fig.savefig('out.png', dpi=100)
